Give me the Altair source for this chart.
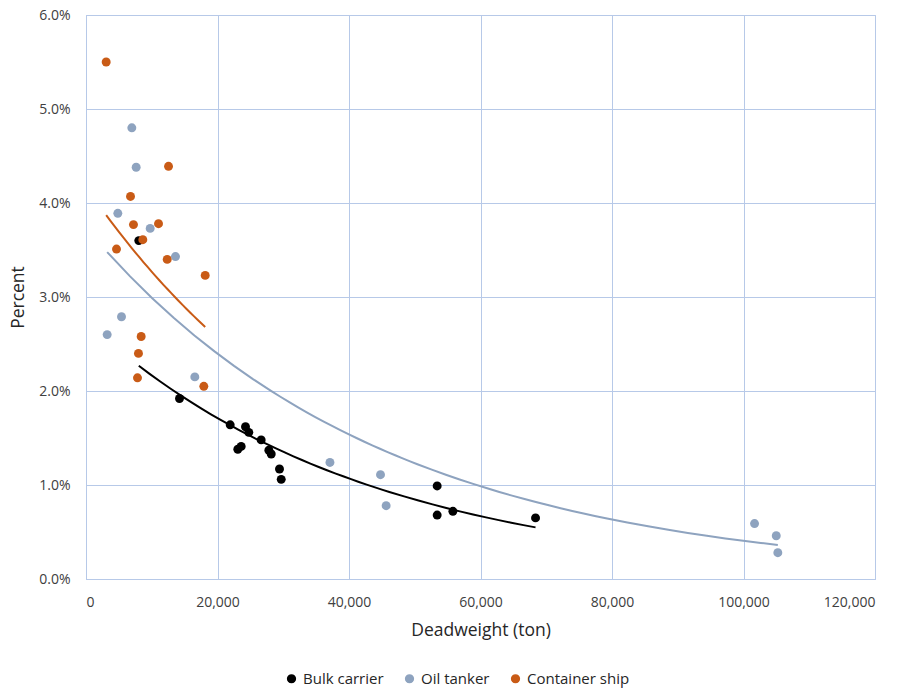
import altair as alt
import pandas as pd

# Deadweight (ton) and percent values per ship type
bulk_dwt = [8030, 14220, 21930, 24260, 24760, 23600, 23090, 26640, 27810, 28170,
            29430, 29690, 53410, 53410, 55800, 68370]
bulk_pct = [3.60, 1.92, 1.64, 1.62, 1.56, 1.41, 1.38, 1.48, 1.37, 1.33,
            1.17, 1.06, 0.99, 0.68, 0.72, 0.65]

tanker_dwt = [6970, 7630, 4840, 9760, 13610, 5400, 3220, 16550, 37100, 44790,
              45650, 101680, 104980, 105220]
tanker_pct = [4.80, 4.38, 3.89, 3.73, 3.43, 2.79, 2.60, 2.15, 1.24, 1.11,
              0.78, 0.59, 0.46, 0.28]

container_dwt = [3070, 12550, 6770, 7220, 11030, 8640, 4640, 12350, 18130, 8390,
                 7980, 7830, 17920]
container_pct = [5.50, 4.39, 4.07, 3.77, 3.78, 3.61, 3.51, 3.40, 3.23, 2.58,
                 2.40, 2.14, 2.05]

types = ["Bulk carrier", "Oil tanker", "Container ship"]
colors = ["#000000", "#8EA3BF", "#C95B16"]

rows = []
for name, xs, ys in [("Bulk carrier", bulk_dwt, bulk_pct),
                     ("Oil tanker", tanker_dwt, tanker_pct),
                     ("Container ship", container_dwt, container_pct)]:
    for xv, yv in zip(xs, ys):
        rows.append({"type": name, "dwt": xv, "pct": yv / 100})
df = pd.DataFrame(rows)

FONT = "Open Sans"
GRID = "#B7C9E8"
S = 100000  # scale for the exponential trend: ln(y) = a + b * dwt

color_scale = alt.Scale(domain=types, range=colors)

x_enc = alt.X("dwt:Q", title="Deadweight (ton)",
              scale=alt.Scale(domain=[0, 120000], nice=False),
              axis=alt.Axis(values=[0, 20000, 40000, 60000, 80000, 100000, 120000],
                            format=",d", labelPadding=16, titlePadding=12,
                            ticks=False, domainColor=GRID, gridColor=GRID))
y_enc = alt.Y("pct:Q", title="Percent",
              scale=alt.Scale(domain=[0, 0.06], nice=False),
              axis=alt.Axis(values=[0, 0.01, 0.02, 0.03, 0.04, 0.05, 0.06],
                            format=".1%", labelPadding=16, titlePadding=11,
                            ticks=False, domainColor=GRID, gridColor=GRID))
color_enc = alt.Color("type:N", title=None, scale=color_scale,
                      legend=alt.Legend(orient="none", direction="horizontal",
                                        legendX=198, legendY=656,
                                        symbolType="circle", symbolSize=60,
                                        labelOffset=4, columnPadding=18,
                                        labelFontSize=15, labelFont=FONT,
                                        labelColor="#262626"))

points = alt.Chart(df).mark_circle(size=80, opacity=1).encode(
    x=x_enc, y=y_enc, color=color_enc
)

# exponential trend line per ship type (least squares on ln y):
# a power fit against exp(dwt/S) is the same model, then map back to dwt
trend = alt.Chart(df).transform_calculate(
    dwt_e=f"exp(datum.dwt / {S})"
).transform_regression(
    "dwt_e", "pct", groupby=["type"], method="pow"
).transform_calculate(
    dwt=f"{S} * log(datum.dwt_e)"
).mark_line(strokeWidth=2).encode(
    x="dwt:Q", y="pct:Q",
    color=alt.Color("type:N", scale=color_scale)
)

chart = alt.layer(trend, points).properties(
    width=789, height=564,
    padding={"left": 86, "top": 15, "right": 32, "bottom": 111},
    autosize=alt.AutoSizeParams(type="none")
).configure_axis(
    labelFont=FONT, titleFont=FONT, labelFontSize=14, titleFontSize=17.5,
    labelColor="#404040", titleColor="#262626", titleFontWeight="normal",
    gridWidth=1, domainWidth=1
).configure_view(stroke=GRID)

chart.save("out.html", embed_options={"renderer": "svg", "actions": False})
